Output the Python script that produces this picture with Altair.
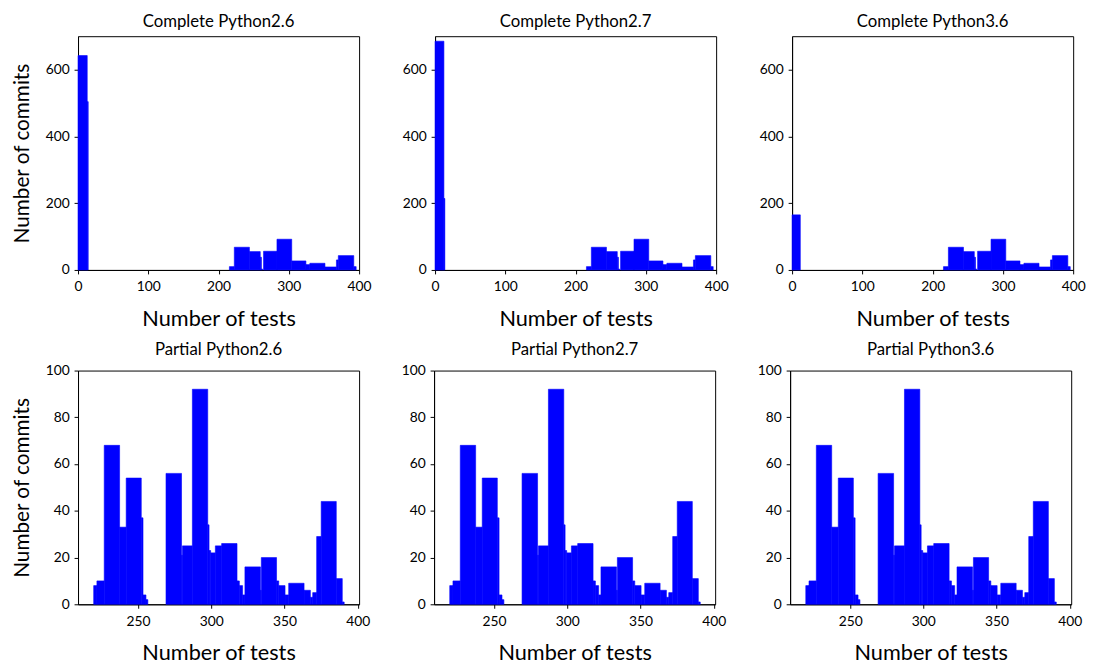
import altair as alt
import pandas as pd

# ---- data: histogram segments (left edge, right edge, count) ----
# Complete: head bar near 0, per panel
c26_left = [0.0, 13.1]
c26_right = [13.1, 14.5]
c26_count = [642, 504]

c27_left = [0.0, 12.6]
c27_right = [12.6, 13.9]
c27_count = [685, 214]

c36_left = [0.0]
c36_right = [11.7]
c36_count = [165]

# Complete: tail (shared by all three complete panels)
ct_left = [215.4, 222.4, 243.9, 259.3, 261.0, 264.0, 283.1, 304.1, 324.3, 329.9, 351.4, 367.7, 370.4, 392.4]
ct_right = [222.4, 243.9, 259.3, 261.0, 262.5, 283.1, 304.1, 324.3, 329.9, 351.4, 367.7, 370.4, 392.4, 395.8]
ct_count = [10, 68, 55, 38, 3, 56, 92, 27, 16, 20, 9, 30, 43, 10]

# Partial (same for all three partial panels)
p_left = [219.7, 221.9, 226.9, 237.4, 241.9, 252.2, 253.4, 255.4,
          269.1, 279.7, 280.3, 287.1, 297.6, 298.5, 299.6, 302.8, 307.1, 317.6, 319.2, 321.4,
          323.0, 333.6, 334.2, 344.6, 346.1, 350.4, 352.9, 363.4, 367.7, 369.3, 372.0, 375.1,
          385.4, 389.5]
p_right = [221.9, 226.9, 237.4, 241.9, 252.2, 253.4, 255.4, 256.7,
           279.7, 280.3, 287.1, 297.6, 298.5, 299.6, 302.8, 307.1, 317.6, 319.2, 321.4, 323.0,
           333.6, 334.2, 344.6, 346.1, 350.4, 352.9, 363.4, 367.7, 369.3, 372.0, 375.1, 385.4,
           389.5, 390.8]
p_count = [8, 10, 68, 33, 54, 37, 4, 2,
           56, 21, 25, 92, 34, 23, 22, 25, 26, 10, 8, 4,
           16, 6, 20, 10, 8, 4, 9, 6, 3, 5, 29, 44,
           11, 1]

complete_titles = ["Complete Python2.6", "Complete Python2.7", "Complete Python3.6"]
partial_titles = ["Partial Python2.6", "Partial Python2.7", "Partial Python3.6"]

FONT = "Lato"
BLUE = "#0000ff"
W, H = 285, 237


def frame(left, right, count):
    return pd.DataFrame({"x0": left, "x1": right, "n": count})


def panel(df, title, xdom, xticks, ydom, yticks, ytitle):
    return alt.Chart(df).mark_bar(color=BLUE, stroke=BLUE, strokeWidth=0.6).encode(
        x=alt.X("x0:Q", scale=alt.Scale(domain=xdom, nice=False, zero=False),
                axis=alt.Axis(values=xticks, title="Number of tests", grid=False,
                              labelFlush=False)),
        x2="x1:Q",
        y=alt.Y("n:Q", scale=alt.Scale(domain=ydom, nice=False),
                axis=alt.Axis(values=yticks, title=ytitle, grid=False)),
        y2=alt.datum(0),
    ).properties(width=W, height=H, title=title)


top = []
for i, (l, r, c) in enumerate([(c26_left, c26_right, c26_count),
                               (c27_left, c27_right, c27_count),
                               (c36_left, c36_right, c36_count)]):
    df = frame(l + ct_left, r + ct_right, c + ct_count)
    top.append(panel(df, complete_titles[i], [0, 400], [0, 100, 200, 300, 400],
                     [0, 700], [0, 200, 400, 600],
                     "Number of commits" if i == 0 else ""))

bottom = []
for i in range(3):
    df = frame(p_left, p_right, p_count)
    bottom.append(panel(df, partial_titles[i], [209, 401], [250, 300, 350, 400],
                        [0, 100], [0, 20, 40, 60, 80, 100],
                        "Number of commits" if i == 0 else ""))

chart = alt.vconcat(
    alt.hconcat(*top, spacing=30),
    alt.hconcat(*bottom, spacing=30),
    spacing=10,
).properties(
    padding={"left": 3, "top": 0, "right": 0, "bottom": 0}
).configure_view(
    stroke="black", strokeWidth=1
).configure_axis(
    labelFont=FONT, labelFontSize=14, labelColor="black",
    titleFont=FONT, titleFontSize=22, titleFontWeight="normal", titleColor="black",
    domainColor="black", tickColor="black", tickSize=4,
).configure_axisX(
    labelPadding=6, titlePadding=15,
).configure_axisY(
    labelPadding=5, titlePadding=13, titleFontSize=21,
).configure_title(
    font=FONT, fontSize=17, fontWeight="normal", color="black", offset=5, anchor="middle"
)

chart.save("out.html", embed_options={"renderer": "svg", "actions": False})
